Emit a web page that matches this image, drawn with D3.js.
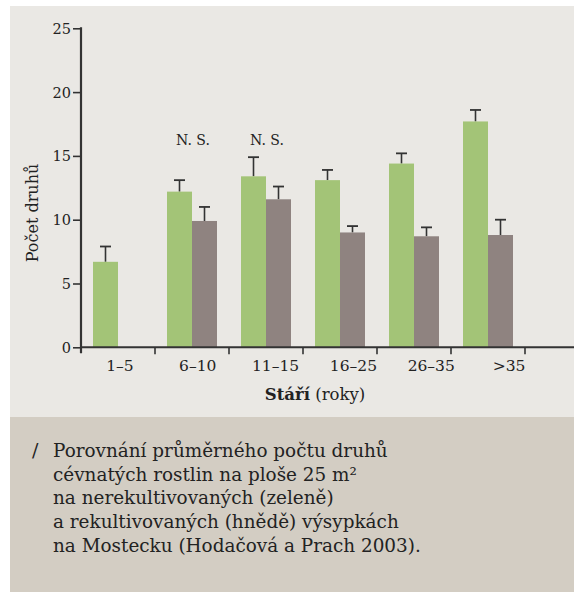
<!DOCTYPE html>
<html lang="cs">
<head>
<meta charset="utf-8">
<script src="https://cdn.jsdelivr.net/npm/d3@7"></script>
<style>
  html, body { margin: 0; padding: 0; background: #ffffff; }
  svg { display: block; }
  text { font-family: "DejaVu Serif", serif; fill: #222222; }
</style>
</head>
<body>
<svg id="chart" width="574" height="592"></svg>
<script>
// Age classes of the spoil heaps (years)
const categories = ["1–5", "6–10", "11–15", "16–25", "26–35", ">35"];
// Mean species count per 25 m² plot, non-reclaimed heaps (green)
const unreclaimed = [6.7, 12.2, 13.4, 13.1, 14.4, 17.7];
const unreclaimedErr = [1.2, 0.9, 1.5, 0.8, 0.8, 0.9];
// Mean species count per 25 m² plot, reclaimed heaps (brown); none for 1–5
const reclaimed = [null, 9.9, 11.6, 9.0, 8.7, 8.8];
const reclaimedErr = [null, 1.1, 1.0, 0.5, 0.7, 1.2];
// Significance notes above groups
const significance = ["", "N. S.", "N. S.", "", "", ""];
const yTicks = [0, 5, 10, 15, 20, 25];
const seriesKeys = ["unreclaimed", "reclaimed"];
const seriesColors = { unreclaimed: "#a3c477", reclaimed: "#8f8380" };
const captionLines = [
  "Porovnání průměrného počtu druhů",
  "cévnatých rostlin na ploše 25 m²",
  "na nerekultivovaných (zeleně)",
  "a rekultivovaných (hnědě) výsypkách",
  "na Mostecku (Hodačová a Prach 2003)."
];

const svg = d3.select("#chart");

// Panels
svg.append("rect").attr("x", 10).attr("y", 6).attr("width", 564).attr("height", 411).attr("fill", "#eae8e4");
svg.append("rect").attr("x", 10).attr("y", 417).attr("width", 564).attr("height", 175).attr("fill", "#d3cdc3");

const x0 = 81, x1 = 525, yBottom = 347.3, yTop = 28.3;
const x = d3.scaleBand().domain(categories).range([x0, x1]).paddingInner(0).paddingOuter(0);
// category labels are set on a slightly wider pitch than the bar groups
const xLabel = d3.scaleBand().domain(categories).range([x0, 548]);
const xs = d3.scaleBand().domain(seriesKeys).range([0, x.bandwidth()]).paddingInner(0).paddingOuter(0.48);
const y = d3.scaleLinear().domain([0, 25]).range([yBottom, yTop]);

const rows = categories.map((c, i) => ({
  cat: c,
  values: [
    { key: "unreclaimed", v: unreclaimed[i], e: unreclaimedErr[i] },
    { key: "reclaimed", v: reclaimed[i], e: reclaimedErr[i] }
  ].filter(d => d.v != null),
  sig: significance[i]
}));

const groups = svg.append("g").selectAll("g").data(rows).join("g")
  .attr("transform", d => `translate(${x(d.cat)},0)`);

// Error bars (drawn under bars so the stem starts at the bar top)
groups.selectAll("g.err").data(d => d.values).join("g").attr("class", "err")
  .each(function (d) {
    const g = d3.select(this);
    const cx = xs(d.key) + xs.bandwidth() / 2;
    g.append("line").attr("x1", cx).attr("x2", cx).attr("y1", y(d.v)).attr("y2", y(d.v + d.e))
      .attr("stroke", "#333").attr("stroke-width", 1.6);
    g.append("line").attr("x1", cx - 5.5).attr("x2", cx + 5.5).attr("y1", y(d.v + d.e)).attr("y2", y(d.v + d.e))
      .attr("stroke", "#333").attr("stroke-width", 1.8);
  });

groups.selectAll("rect").data(d => d.values).join("rect")
  .attr("x", d => xs(d.key))
  .attr("width", xs.bandwidth())
  .attr("y", d => y(d.v))
  .attr("height", d => y(0) - y(d.v))
  .attr("fill", d => seriesColors[d.key]);

groups.filter(d => d.sig).append("text")
  .attr("x", x.bandwidth() / 2 + 1)
  .attr("y", 145)
  .attr("text-anchor", "middle")
  .attr("font-size", 14)
  .text(d => d.sig);

// Y axis
const yAxis = svg.append("g").attr("transform", `translate(${x0},0)`)
  .call(d3.axisLeft(y).tickValues(yTicks).tickSize(8).tickPadding(2));
yAxis.select(".domain").remove();
yAxis.append("line").attr("x1", 0).attr("x2", 0).attr("y1", yTop - 1).attr("y2", yBottom + 6)
  .attr("stroke", "#333").attr("stroke-width", 2.2);
yAxis.selectAll(".tick line").attr("stroke", "#333").attr("stroke-width", 1.6);
yAxis.selectAll(".tick text").attr("font-size", 14.5).attr("fill", "#333")
  .style("font-family", "'DejaVu Serif', serif").attr("dy", "0.34em");

// X axis line and category boundary ticks
svg.append("line").attr("x1", x0).attr("x2", 574).attr("y1", yBottom).attr("y2", yBottom)
  .attr("stroke", "#333").attr("stroke-width", 2);
svg.append("g").selectAll("line").data(categories).join("line")
  .attr("x1", d => x(d) + x.step())
  .attr("x2", d => x(d) + x.step())
  .attr("y1", yBottom).attr("y2", yBottom + 7)
  .attr("stroke", "#333").attr("stroke-width", 1.6);

svg.append("g").selectAll("text").data(categories).join("text")
  .attr("x", d => xLabel(d) + xLabel.bandwidth() / 2)
  .attr("y", 371)
  .attr("text-anchor", "middle")
  .attr("font-size", 15.5)
  .text(d => d);

// Axis titles
const xt = svg.append("text").attr("x", 315).attr("y", 400).attr("text-anchor", "middle").attr("font-size", 16.5);
xt.append("tspan").attr("font-weight", "bold").text("Stáří");
xt.append("tspan").text(" (roky)");

svg.append("text")
  .attr("transform", "translate(38,213) rotate(-90)")
  .attr("text-anchor", "middle")
  .attr("font-size", 16)
  .text("Počet druhů");

// Caption
svg.append("text").attr("x", 32).attr("y", 457).attr("font-size", 19).text("/");
svg.append("g").selectAll("text").data(captionLines).join("text")
  .attr("x", 53)
  .attr("y", (d, i) => 457 + i * 23.7)
  .attr("font-size", 18.4)
  .text(d => d);
</script>
</body>
</html>
